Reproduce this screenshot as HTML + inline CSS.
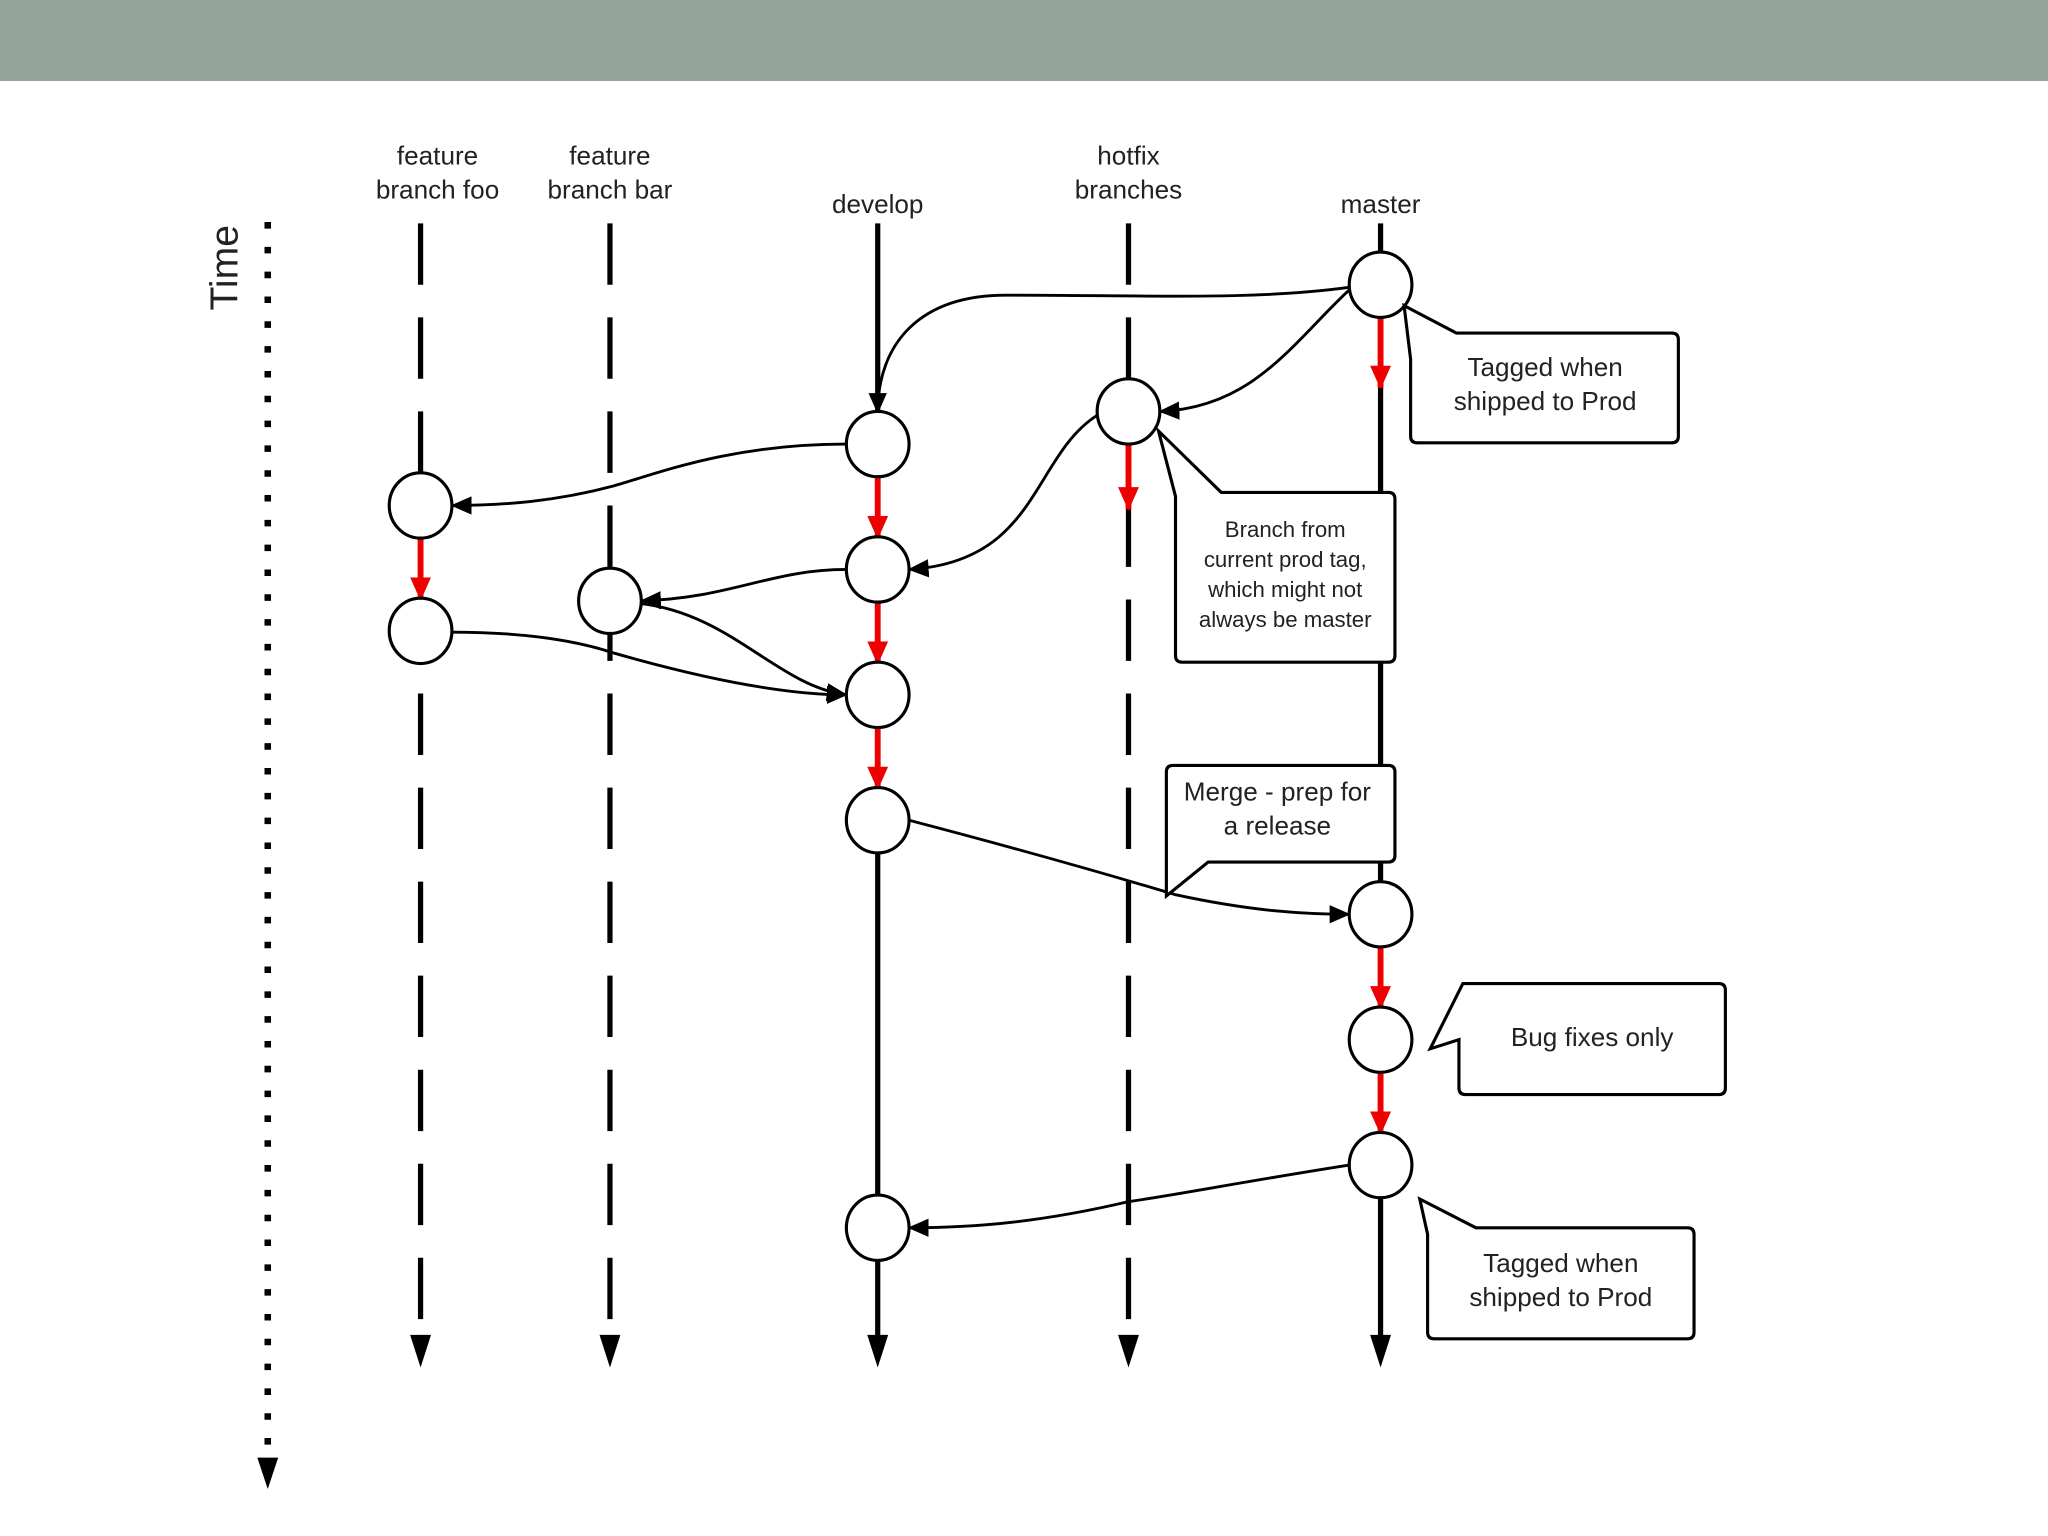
<!DOCTYPE html>
<html><head><meta charset="utf-8"><style>
html,body{margin:0;padding:0;background:#fff;}
svg{display:block;}
text{font-family:"Liberation Sans",sans-serif;fill:#222;}
</style></head><body>
<svg width="2048" height="1536" viewBox="0 0 1568 1176" xmlns="http://www.w3.org/2000/svg">
<defs>
<marker id="ab" viewBox="0 0 16 14" refX="15" refY="7" markerWidth="16" markerHeight="14" markerUnits="userSpaceOnUse" orient="auto"><path d="M0,0 L16,7 L0,14 Z" fill="#000"/></marker>
<marker id="ar" viewBox="0 0 18 16" refX="17" refY="8" markerWidth="18" markerHeight="16" markerUnits="userSpaceOnUse" orient="auto"><path d="M0,0 L18,8 L0,16 Z" fill="#e00"/></marker>
</defs>
<rect x="0" y="0" width="1568" height="62" fill="#93a29a"/>

<text transform="translate(182,205) rotate(-90)" text-anchor="middle" font-size="30">Time</text>
<line x1="205" y1="170" x2="205" y2="1118" stroke="#000" stroke-width="5" stroke-dasharray="5 14"/>
<path d="M197,1116 L213,1116 L205,1140 Z" fill="#000"/>

<g font-size="20" text-anchor="middle">
<text x="335" y="126">feature</text><text x="335" y="152">branch foo</text>
<text x="467" y="126">feature</text><text x="467" y="152">branch bar</text>
<text x="672" y="163">develop</text>
<text x="864" y="126">hotfix</text><text x="864" y="152">branches</text>
<text x="1057" y="163">master</text>
</g>

<g stroke="#000" stroke-width="4" fill="none">
<line x1="322" y1="171" x2="322" y2="1025" stroke-dasharray="47 25"/>
<line x1="467" y1="171" x2="467" y2="1025" stroke-dasharray="47 25"/>
<line x1="864" y1="171" x2="864" y2="1025" stroke-dasharray="47 25"/>
<line x1="672" y1="171" x2="672" y2="1025"/>
<line x1="1057" y1="171" x2="1057" y2="1025"/>
</g>
<g fill="#000">
<path d="M314,1022 L330,1022 L322,1047 Z"/>
<path d="M459,1022 L475,1022 L467,1047 Z"/>
<path d="M664,1022 L680,1022 L672,1047 Z"/>
<path d="M856,1022 L872,1022 L864,1047 Z"/>
<path d="M1049,1022 L1065,1022 L1057,1047 Z"/>
</g>

<g stroke="#000" stroke-width="2.2" fill="none" marker-end="url(#ab)">
<path d="M1033,220 C 960,230 880,226 770,226 C 705,226 672,262 672,316"/>
<path d="M1033,222 C 990,262 960,312 888,315"/>
<path d="M648,340 C 560,340 505,362 470,372 C 425,384 385,387 346,387"/>
<path d="M840,318 C 790,350 795,430 696,436"/>
<path d="M648,436 C 590,436 560,458 491,460"/>
<path d="M490,462 C 560,470 595,525 648,532"/>
<path d="M346,484 C 400,484 440,490 470,500 C 540,520 600,532 648,532"/>
<path d="M696,628 C 780,650 850,670 900,685 C 960,698 1000,700 1033,700"/>
<path d="M1033,892 C 950,905 900,915 864,920 C 800,935 750,940 696,940"/>
</g>

<g stroke="#e00" stroke-width="4.5" marker-end="url(#ar)">
<line x1="1057" y1="242" x2="1057" y2="297"/>
<line x1="864" y1="339" x2="864" y2="390"/>
<line x1="322" y1="411" x2="322" y2="459"/>
<line x1="672" y1="364" x2="672" y2="412"/>
<line x1="672" y1="460" x2="672" y2="508"/>
<line x1="672" y1="556" x2="672" y2="604"/>
<line x1="1057" y1="724" x2="1057" y2="772"/>
<line x1="1057" y1="820" x2="1057" y2="868"/>
</g>

<g fill="#fff" stroke="#000" stroke-width="2.4">
<ellipse cx="1057" cy="218" rx="24" ry="25"/>
<ellipse cx="1057" cy="700" rx="24" ry="25"/>
<ellipse cx="1057" cy="796" rx="24" ry="25"/>
<ellipse cx="1057" cy="892" rx="24" ry="25"/>
<ellipse cx="864" cy="315" rx="24" ry="25"/>
<ellipse cx="672" cy="340" rx="24" ry="25"/>
<ellipse cx="672" cy="436" rx="24" ry="25"/>
<ellipse cx="672" cy="532" rx="24" ry="25"/>
<ellipse cx="672" cy="628" rx="24" ry="25"/>
<ellipse cx="672" cy="940" rx="24" ry="25"/>
<ellipse cx="322" cy="387" rx="24" ry="25"/>
<ellipse cx="322" cy="483" rx="24" ry="25"/>
<ellipse cx="467" cy="460" rx="24" ry="25"/>
</g>

<g fill="#fff" stroke="#000" stroke-width="2.4">
<path d="M1115,255 H1280 q5,0 5,5 V334 q0,5 -5,5 H1085 q-5,0 -5,-5 V275 L1075,234 Z"/>
<path d="M935,377 H1063 q5,0 5,5 V502 q0,5 -5,5 H905 q-5,0 -5,-5 V380 L887,330 Z"/>
<path d="M893,686 V591 q0,-5 5,-5 H1063 q5,0 5,5 V655 q0,5 -5,5 H925 Z"/>
<path d="M1120,753 H1316 q5,0 5,5 V833 q0,5 -5,5 H1122 q-5,0 -5,-5 V796 L1095,803 Z"/>
<path d="M1087,918 L1130,940 H1292 q5,0 5,5 V1020 q0,5 -5,5 H1098 q-5,0 -5,-5 V945 Z"/>
</g>
<g text-anchor="middle" font-size="20">
<text x="1183" y="288">Tagged when</text><text x="1183" y="314">shipped to Prod</text>
<text x="978" y="613">Merge - prep for</text><text x="978" y="639">a release</text>
<text x="1219" y="801">Bug fixes only</text>
<text x="1195" y="974">Tagged when</text><text x="1195" y="1000">shipped to Prod</text>
</g>
<g text-anchor="middle" font-size="17">
<text x="984" y="411">Branch from</text>
<text x="984" y="434">current prod tag,</text>
<text x="984" y="457">which might not</text>
<text x="984" y="480">always be master</text>
</g>
</svg>
</body></html>
